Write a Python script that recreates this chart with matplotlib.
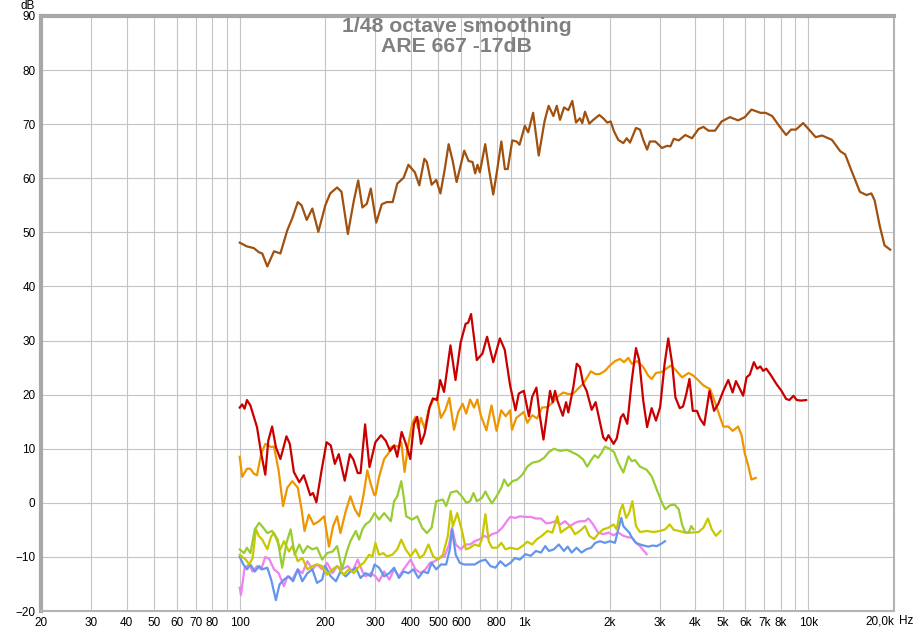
import matplotlib
matplotlib.use("Agg")
import matplotlib.pyplot as plt
from matplotlib.ticker import FixedLocator, FixedFormatter, NullLocator

plt.rcParams['font.family'] = ['Liberation Sans', 'DejaVu Sans']

# --- data (Hz, dB) ---
brown_f = [100, 106, 112, 117, 120, 125, 132, 139, 147, 153, 160, 165, 172, 180, 189,
           200, 208, 220, 228, 240, 252, 261, 270, 280, 289, 302, 316, 329, 345, 358,
           377, 392, 413, 428, 446, 455, 473, 491, 508, 525, 543, 561, 579, 616, 638,
           659, 673, 686, 699, 730, 754, 779, 802, 832, 856, 876, 909, 941, 964, 1006,
           1034, 1076, 1126, 1181, 1220,
           1268, 1303, 1338, 1382, 1431, 1478, 1523, 1572, 1602, 1638, 1696, 1752, 1839,
           1898, 1961, 2016, 2071, 2144, 2234, 2296, 2358, 2475, 2556, 2625, 2708, 2770,
           2895, 3056, 3184, 3271, 3362, 3499, 3689, 3895, 4107, 4275, 4450, 4693, 4950,
           5294, 5660, 5975, 6306, 6780, 7070, 7460, 7910, 8350, 8690, 9040, 9580, 10050,
           10600, 11170, 12100, 12940, 13470, 14200, 15170, 16000, 16650, 17100, 17800,
           18520, 19400]
brown_db = [48.1, 47.4, 47.1, 46.3, 46.1, 43.7, 46.5, 46.1, 50.4, 52.6, 55.6, 55.0, 52.3, 54.4, 50.1,
            55.0, 57.2, 58.3, 57.5, 49.7, 55.9, 59.6, 54.6, 55.3, 58.1, 51.8, 55.2, 55.6, 55.6, 59.0,
            60.1, 62.5, 61.1, 58.7, 63.6, 63.0, 58.8, 59.7, 57.2, 61.4, 66.3, 63.2, 59.3, 65.1, 63.2,
            63.0, 60.9, 62.5, 61.1, 66.3, 61.4, 57.0, 61.1, 66.8, 61.7, 61.7, 67.0, 66.8, 66.2, 69.7,
            68.5, 72.1, 64.2, 70.6, 73.4,
            71.5, 73.4, 70.8, 73.1, 72.6, 74.3, 70.3, 71.1, 70.2, 72.3, 70.1, 70.8, 71.7,
            71.1, 70.3, 70.5, 68.7, 67.1, 66.5, 67.4, 66.6, 69.3, 69.0, 67.1, 65.3, 66.8,
            66.8, 65.6, 66.0, 65.9, 67.3, 67.0, 68.0, 67.4, 69.1, 69.5, 68.8, 68.8, 70.5,
            71.3, 70.7, 71.3, 72.7, 72.1, 72.1, 71.5, 69.6, 68.0, 69.0, 69.0, 70.2, 69.0,
            67.6, 67.9, 67.1, 65.0, 64.4, 61.3, 57.5, 56.9, 57.2, 55.9, 51.3,
            47.6, 46.8]

red_f = [100, 102, 104, 106, 109, 115, 119, 123, 126, 130, 134, 139, 146, 150, 155,
         162, 168, 177, 181, 186, 194, 202, 209, 216, 223, 234, 244, 251, 260, 266,
         276, 286, 300, 314, 326, 338, 349, 358, 371, 384, 398, 410, 421, 434, 447,
         465, 478, 494, 507, 523, 551, 574, 598, 623, 636, 651, 682, 714, 741, 779,
         822, 855, 893, 933, 958, 998, 1040, 1068, 1105, 1133, 1170, 1208,
         1234, 1261, 1285, 1310, 1368, 1405, 1431, 1490, 1532, 1572, 1614, 1660, 1729,
         1785, 1844, 1898, 1941, 1980, 2064, 2118, 2189, 2234, 2307, 2392, 2475, 2540,
         2625, 2708, 2810, 2910, 3010, 3121, 3215, 3318, 3406, 3527, 3622, 3719, 3817,
         3920, 4054, 4163, 4300, 4488, 4658, 4820, 5020, 5226, 5413, 5560, 5710, 5895,
         6060, 6220, 6430, 6600, 6780, 6930, 7110, 7400, 7710, 8040, 8350, 8580, 8860,
         9100, 9430, 9820]
red_db = [17.6, 18.2, 17.4, 19.0, 18.0, 14.0, 9.1, 5.2, 11.5, 14.1, 10.3, 8.1, 12.3, 10.9, 5.7,
          3.8, 5.1, 1.4, 1.8, 0.1, 6.0, 11.2, 10.6, 7.2, 9.0, 4.1, 9.0, 8.0, 5.5, 5.5,
          14.5, 6.6, 11.2, 12.5, 11.5, 9.6, 10.6, 8.5, 13.1, 10.9, 8.1, 14.6, 15.9, 10.9, 12.8,
          17.7, 19.3, 19.0, 22.7, 20.5, 29.1, 22.7, 29.6, 33.1, 33.3, 34.9, 26.4, 27.6, 30.7, 26.0,
          30.4, 28.3, 21.7, 17.1, 20.2, 20.7, 16.0, 19.6, 21.3, 16.5, 11.7, 17.1,
          20.7, 18.6, 20.7, 18.9, 16.1, 18.6, 16.7, 21.4, 25.7, 25.1, 22.0, 20.7, 17.2,
          18.6, 15.2, 12.1, 11.5, 12.5, 10.9, 11.9, 15.8, 16.4, 14.6, 22.6, 28.6, 26.4,
          18.9, 14.0, 17.5, 15.2, 17.7, 25.7, 30.4, 25.7, 19.5, 17.5, 17.8, 20.1, 22.9,
          17.0, 17.0, 15.5, 14.4, 20.7, 17.0, 18.3, 20.7, 22.7, 20.4, 22.5, 21.3, 19.8,
          23.2, 23.7, 26.0, 24.8, 25.2, 24.4, 24.8, 23.5, 22.0, 20.7, 19.2, 19.0, 19.8,
          19.0, 18.9, 19.0]

orange_f = [100, 102, 106, 109, 112, 115, 119, 123, 129, 132, 137,
            142, 147, 153, 160, 165, 169, 175, 182, 190, 198, 206, 213, 220, 226, 236,
            245, 254, 263, 272, 281, 288, 297,
            300, 309, 322, 334, 341, 351, 363, 370, 380, 390, 404, 415, 424, 434, 447,
            461, 478, 494, 510, 528, 546, 567, 587, 608, 626, 646, 667, 685, 704, 737,
            768, 800, 831, 862, 893, 907, 939, 998, 1027, 1068, 1111, 1156, 1208, 1258,
            1303, 1374, 1431, 1490, 1548, 1614, 1667, 1716, 1785, 1844, 1925, 2005, 2088,
            2175, 2246, 2326, 2392, 2502, 2625, 2733, 2810, 2910, 3056, 3184, 3290, 3433,
            3594, 3789, 3943, 4107, 4275, 4513, 4693, 4885, 5020, 5226, 5413, 5660, 5820,
            5975, 6140, 6306, 6530]
orange_db = [8.5, 4.8, 6.3, 6.3, 5.4, 5.1, 9.1, 10.9, 10.3, 10.4, 6.0,
             -0.6, 2.8, 4.0, 2.8, -1.2, -5.2, -2.2, -4.0, -3.4, -2.5, -8.1, -4.3, -2.5, -5.6, -1.5,
             1.2, -1.2, -2.5, 1.2, 6.0, 3.7, 1.5,
             1.4, 4.8, 8.1, 9.2, 10.3, 10.6, 10.3, 11.2, 5.7, 10.3, 14.6, 15.9, 13.8, 15.7, 13.7,
             17.1, 19.0, 19.4, 15.7, 17.1, 19.4, 13.5, 16.8, 18.3, 16.5, 19.1, 17.6, 19.1, 16.2, 13.4,
             18.0, 13.3, 17.1, 16.0, 17.1, 13.5, 15.7, 16.8, 14.8, 16.2, 15.6, 17.6, 17.7, 18.5,
             19.5, 20.4, 20.1, 20.2, 21.1, 22.0, 23.2, 24.3, 23.8, 23.8, 24.4, 25.4, 26.2,
             26.6, 26.0, 26.8, 25.7, 26.2, 25.1, 23.5, 22.9, 24.0, 24.2, 24.9, 25.4, 24.4,
             23.2, 24.0, 23.5, 22.6, 21.7, 21.0, 18.6, 15.9, 14.1, 14.1, 13.3, 14.1, 12.5,
             9.1, 6.9, 4.3, 4.6]

green_f = [100, 103.5, 106, 109, 113, 117, 121, 125, 130, 136, 141, 146, 151, 156, 162,
           167, 173, 180, 187, 195, 203, 212, 220, 229, 238, 245, 256, 263, 270, 277,
           287, 298, 309, 322, 340, 349, 358, 370, 377, 385, 404, 421, 438, 455, 473,
           491, 518, 532, 552, 580, 604, 627,
           646, 664, 682, 711, 731, 751, 771, 800, 832, 851, 878, 910, 947, 986, 1027,
           1068, 1128, 1175, 1223, 1273, 1338, 1416, 1470, 1548, 1614, 1667, 1712, 1770,
           1820, 1870, 1925, 1996, 2071, 2144, 2234, 2330, 2392, 2455, 2556, 2699, 2810,
           2926, 3056, 3138, 3250, 3379, 3499, 3594, 3689, 3789, 3873, 3943]
green_db = [-8.6, -9.3, -8.3, -9.3, -4.9, -3.7, -4.6, -5.6, -5.2, -6.8, -12.0, -7.4, -4.9, -9.6, -7.7,
            -9.3, -8.0, -8.6, -8.3, -10.5, -9.3, -9.0, -8.0, -12.3, -9.0, -7.1, -5.2, -6.8, -4.9, -4.0,
            -3.4, -1.9, -3.1, -1.9, -3.4, 0.3, 1.2, 4.0, 1.2, -2.5, -3.1, -2.5, -4.6, -5.6, -4.6,
            0.3, 0.6, -0.6, 1.9, 2.2, 1.2, 0.0,
            0.3, 1.8, 0.3, 0.9, 2.1, 0.9, -0.1, 1.2, 2.8, 4.3, 3.1, 4.0, 4.3, 5.2, 6.7,
            7.4, 7.7, 8.3, 9.4, 10.0, 9.6, 9.8, 9.4, 8.8, 8.0, 6.7, 7.7, 8.8,
            8.3, 9.2, 10.4, 10.0, 9.4, 7.4, 5.6, 8.6, 7.7, 7.9, 6.7, 6.1, 4.9,
            2.5, 0.0, -1.2, -0.5, -0.3, -1.2, -4.0, -5.5, -5.5, -4.3, -4.9]

yellow_f = [100, 105, 108, 111, 114, 117, 120, 125, 129, 132, 139, 143, 149, 153, 160,
            166, 173, 180, 187, 195, 203, 212, 220, 232, 242, 252, 263, 273, 285, 293,
            300, 309, 320, 329, 344, 358, 370, 383, 399, 415, 430, 444, 461, 479, 498,
            518, 539, 552, 562, 582, 605, 624,
            646, 670, 695, 711, 731, 751, 771, 804, 832, 860, 895, 947, 986, 1027, 1068,
            1111, 1156, 1208, 1258, 1310, 1346, 1393, 1451, 1511, 1572, 1638, 1696, 1762,
            1820, 1898, 1980, 2064, 2118, 2175, 2222, 2287, 2344, 2404, 2475, 2556, 2699,
            2850, 3010, 3138, 3250, 3362, 3499, 3689, 3895, 4107, 4275, 4430, 4572, 4728, 4911]
yellow_db = [-9.6, -10.5, -11.4, -10.2, -4.9, -6.2, -6.8, -8.6, -6.2, -5.6, -8.6, -7.1, -9.0, -8.0, -10.8,
             -10.2, -12.3, -11.7, -11.4, -11.7, -13.3, -12.3, -11.7, -13.3, -12.3, -13.0, -11.7, -11.1, -9.6, -9.9,
             -7.4, -9.6, -9.3, -9.9, -9.6, -8.6, -6.8, -8.6, -9.9, -8.6, -10.2, -9.6, -7.7, -9.9, -10.5,
             -9.6, -6.2, -1.5, -4.3, -1.9, -5.2, -8.6,
             -8.3, -7.7, -8.0, -6.7, -2.1, -7.1, -8.3, -8.3, -7.4, -8.6, -8.3, -8.6, -8.0, -7.2, -7.7,
             -6.7, -6.1, -5.2, -5.5, -2.5, -5.5, -4.9, -4.3, -5.8, -5.2, -4.3, -6.1, -6.7,
             -5.8, -4.9, -4.6, -4.0, -4.9, -1.5, -0.3, -2.8, -1.8, 0.3, -4.3, -5.4, -5.2,
             -5.4, -5.2, -4.9, -4.0, -5.0, -5.2, -5.5, -5.5, -5.4, -4.6, -2.9, -4.9, -6.1, -5.2]

blue_f = [100, 103, 106, 109, 113, 117, 120, 125, 129, 134, 138, 143, 149, 154, 160,
          166, 173, 180, 187, 195, 200, 209, 218, 226, 236, 245, 256, 266, 277, 289,
          298, 309, 322, 336, 349, 363, 377, 392, 408, 425, 441, 459, 473, 491, 510,
          532, 548, 558, 575, 594, 616, 641,
          670, 700, 731, 762, 793, 825, 860, 895, 929, 966, 1011, 1056, 1100, 1147, 1187,
          1223, 1273, 1325, 1381, 1424, 1470, 1530, 1591, 1655, 1722, 1780, 1850, 1925,
          2005, 2088, 2144, 2198, 2234, 2287, 2344, 2392, 2475, 2556, 2640, 2733, 2830,
          2930, 3050, 3130]
blue_db = [-10.0, -11.4, -12.3, -11.4, -12.7, -11.7, -12.3, -12.0, -14.2, -18.0, -15.1, -14.2, -13.6, -14.5, -12.3,
           -14.5, -13.0, -12.3, -14.8, -14.2, -11.7, -13.6, -14.5, -12.7, -13.6, -12.7, -12.0, -13.9, -13.0, -13.6,
           -11.4, -12.0, -13.6, -13.0, -12.0, -13.9, -12.7, -13.0, -12.3, -13.9, -12.7, -13.0, -11.1, -12.3, -11.4,
           -11.4, -8.6, -4.9, -9.6, -11.1, -11.4, -11.4,
           -11.4, -10.8, -10.5, -11.7, -12.0, -10.8, -11.7, -11.1, -10.2, -10.5, -9.5, -9.8, -8.9, -9.2, -8.0,
           -8.9, -8.6, -7.7, -8.9, -8.1, -9.2, -8.3, -9.2, -8.6, -8.3, -7.4, -7.1, -7.4,
           -7.1, -7.4, -4.9, -2.8, -4.3, -4.9, -5.5, -6.4, -7.4, -7.7, -7.9, -8.1, -7.9,
           -8.0, -7.5, -7.1]

pink_f = [100, 101, 104, 108, 111, 115, 119, 123, 127, 132, 137, 143, 147, 153, 160,
          166, 173, 180, 187, 195, 203, 212, 220, 229, 240, 249, 260, 270, 277, 289,
          300, 309, 322, 336, 349, 363, 377, 399, 415, 434, 450, 467, 485, 504, 525,
          545, 558, 575, 600, 621,
          646, 670, 700, 725, 744, 771, 804, 838, 878, 895, 929, 966, 1011, 1056, 1100,
          1147, 1196, 1239, 1290, 1338, 1393, 1451, 1511, 1572, 1638, 1685, 1750, 1820,
          1898, 1980, 2064, 2144, 2234, 2330, 2392, 2475, 2556, 2640, 2700]
pink_db = [-15.7, -17.0, -12.0, -11.4, -12.7, -11.7, -12.3, -10.0, -10.4, -12.3, -13.0, -15.4, -13.6, -14.2, -12.3,
           -13.0, -10.8, -12.3, -11.4, -12.3, -11.1, -13.0, -11.7, -12.3, -11.7, -12.7, -10.5, -12.7, -13.6, -13.0,
           -13.6, -14.5, -12.7, -14.2, -12.3, -13.6, -12.3, -10.5, -12.3, -13.0, -12.3, -11.1, -10.8, -10.2, -9.9,
           -7.7, -4.6, -7.7, -8.6, -7.7,
           -7.7, -7.1, -6.7, -6.1, -6.4, -5.8, -5.5, -4.6, -3.1, -2.6, -2.8, -2.5, -2.6, -2.6, -2.9,
           -2.9, -3.8, -3.7, -3.4, -4.0, -3.4, -4.3, -3.7, -3.4, -3.4, -2.9, -4.0, -5.5,
           -5.8, -5.5, -6.0, -5.5, -6.1, -6.4, -6.4, -7.4, -8.0, -8.9, -9.5]

grid_freqs = [20, 30, 40, 50, 60, 70, 80, 90, 100, 200, 300, 400, 500, 600, 700, 800, 900,
              1000, 2000, 3000, 4000, 5000, 6000, 7000, 8000, 9000, 10000, 20000]
grid_labels = ["20", "30", "40", "50", "60", "70", "80", "", "100", "200", "300", "400", "500",
               "600", "", "800", "", "1k", "2k", "3k", "4k", "5k", "6k", "7k", "8k", "", "10k", ""]
db_ticks = list(range(-20, 91, 10))

title_lines = ["1/48 octave smoothing", "ARE 667 -17dB"]

# --- figure ---
fig = plt.figure(figsize=(9.13, 6.32), dpi=100)
ax = fig.add_axes([41 / 913, 21 / 632, 853 / 913, 595 / 632])

traces = [
    (pink_f, pink_db, "#EE82EE"),
    (blue_f, blue_db, "#6495ED"),
    (yellow_f, yellow_db, "#C8C800"),
    (green_f, green_db, "#99CC33"),
    (orange_f, orange_db, "#EE9600"),
    (red_f, red_db, "#C80000"),
    (brown_f, brown_db, "#A0500F"),
]
for f, db, col in traces:
    ax.plot(f, db, color=col, lw=1.6, solid_joinstyle="round")

ax.set_xscale("log")
ax.set_xlim(20, 20000)
ax.set_ylim(-20, 90)

ax.xaxis.set_major_locator(FixedLocator(grid_freqs))
ax.xaxis.set_major_formatter(FixedFormatter(grid_labels))
ax.xaxis.set_minor_locator(NullLocator())
ax.set_yticks(db_ticks)
ax.tick_params(axis="both", length=0, labelsize=8.5, colors="black")
ax.tick_params(axis="x", pad=4)
ax.tick_params(axis="y", pad=4)
ax.grid(True, color="#C4C4C4", lw=0.8)
ax.set_axisbelow(True)

for side in ["left", "top"]:
    ax.spines[side].set_color("#A8A8A8")
    ax.spines[side].set_linewidth(3)
for side in ["right", "bottom"]:
    ax.spines[side].set_color("#B4B4B4")
    ax.spines[side].set_linewidth(1.5)

# right end label and units
ax.text(20000, -0.017, "20,0k", transform=ax.get_xaxis_transform(),
        ha="right", va="center", fontsize=8.5)
ax.text(1.006, -0.017, "Hz", transform=ax.transAxes, ha="left", va="center", fontsize=8.5)
fig.text(28 / 913, 1 - 6 / 632, "dB", ha="center", va="center", fontsize=8.5)

fig.text(0.5, 1 - 27 / 632, title_lines[0], ha="center", va="center",
         fontsize=15.3, fontweight="bold", color="#808080")
fig.text(0.5, 1 - 47 / 632, title_lines[1], ha="center", va="center",
         fontsize=15.3, fontweight="bold", color="#808080")

fig.savefig("out.png", dpi=100)
